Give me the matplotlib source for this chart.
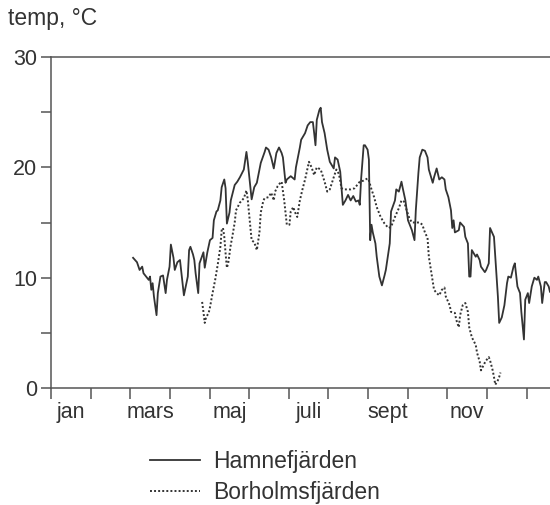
import matplotlib
matplotlib.use("Agg")
import matplotlib.pyplot as plt
import numpy as np

# Daily surface water temperature, day of year (0 = 1 Jan), °C
ham_day = [63, 66, 68, 70, 71, 73, 75, 76, 77, 78, 79, 81, 82, 84, 86, 88, 89, 91, 92,
           94, 95, 97, 99, 101, 102, 105, 106, 107, 109, 110, 111, 113, 114, 117, 118,
           120, 122, 124, 125, 127, 128, 130, 131, 133, 134, 135, 137, 138, 141, 143,
           145, 148, 150, 151, 153, 154, 156, 158, 161, 164, 165, 167, 169, 171, 173,
           175, 177, 178, 180, 181, 184, 187, 188, 191, 192, 194, 195, 197, 199, 201,
           202, 203, 204, 206, 207, 208, 210, 212, 214, 217, 218, 220, 222, 224, 226,
           228, 230, 232, 234, 236, 237, 238, 240, 241, 243, 244, 245, 246, 247, 249,
           250, 252, 254, 256, 257, 260, 261, 264, 265, 267, 269, 270, 272, 274, 277,
           279, 280, 282, 283, 285, 287, 289, 290, 293, 294, 296, 298, 300, 302, 303,
           305, 307, 308, 309, 310, 313, 314, 317, 318, 320, 321, 322, 323, 326, 327,
           329, 330, 333, 334, 336, 337, 340, 341, 343, 344, 346, 348, 350, 351, 353,
           355, 356, 358, 360, 361, 363, 364, 366, 367, 369, 371, 373, 374, 376, 377,
           379, 380, 382, 383, 385]
ham_temp = [11.8, 11.4, 10.7, 11.0, 10.4, 10.1, 9.8, 10.1, 8.9, 9.5, 8.3, 6.6, 8.6, 10.1,
            10.2, 8.6, 9.8, 11.0, 13.0, 11.8, 10.7, 11.4, 11.6, 9.5, 8.4, 10.1, 12.5, 12.8,
            12.1, 11.6, 10.4, 8.6, 11.3, 12.3, 10.9, 12.3, 13.4, 13.6, 15.2, 16.0, 16.1,
            17.0, 18.2, 18.9, 18.1, 14.9, 15.9, 17.0, 18.4, 18.7, 19.1, 19.8, 21.4, 20.5,
            18.2, 17.1, 18.2, 18.6, 20.4, 21.4, 21.8, 21.6, 20.9, 19.9, 21.3, 21.8, 21.3,
            20.9, 18.6, 18.9, 19.2, 18.9, 20.0, 21.8, 22.5, 22.9, 23.1, 23.8, 24.1, 24.1,
            23.1, 22.0, 24.3, 25.2, 25.4, 24.1, 23.1, 21.6, 20.5, 19.9, 20.9, 20.7, 19.6,
            16.6, 17.0, 17.5, 17.0, 17.4, 16.9, 17.0, 16.6, 18.9, 22.0, 22.0, 21.6, 20.7,
            13.4, 14.8, 14.1, 13.1, 11.9, 10.1, 9.3, 10.2, 10.7, 13.1, 16.0, 17.0, 18.0,
            17.8, 18.7, 18.1, 17.0, 15.2, 14.3, 13.4, 16.1, 19.5, 20.9, 21.6, 21.5, 20.9,
            19.8, 18.6, 19.1, 19.9, 18.9, 19.1, 18.9, 18.0, 17.3, 16.1, 14.5, 15.2, 14.1,
            14.3, 15.0, 14.6, 13.7, 13.1, 10.1, 10.1, 12.5, 11.9, 12.1, 11.6, 11.0, 10.5,
            10.7, 11.3, 14.5, 13.7, 11.9, 8.3, 5.9, 6.4, 7.5, 9.5, 10.1, 10.0, 11.0, 11.3,
            9.2, 8.6, 6.9, 4.4, 8.0, 8.6, 7.7, 9.2, 10.0, 9.8, 10.1, 9.2, 7.7, 9.6, 9.6,
            9.2, 8.7, 9.1]

bor_day = [116, 117, 118, 119, 121, 122, 124, 126, 128, 130, 131, 132, 133, 134, 135,
           136, 138, 139, 141, 142, 145, 148, 150, 151, 153, 154, 156, 158, 160, 161,
           163, 164, 167, 169, 171, 172, 174, 176, 177, 179, 181, 183, 184, 186, 187,
           189, 191, 193, 195, 198, 200, 202, 204, 207, 210, 212, 214, 217, 219, 221,
           223, 225, 227, 230, 233, 235, 237, 240, 243, 244, 246, 248, 250, 253, 256,
           259, 261, 264, 267, 269, 271, 273, 275, 277, 280, 283, 285, 287, 289, 290,
           292, 294, 296, 298, 300, 302, 303, 306, 307, 310, 311, 313, 314, 316, 318,
           320, 321, 323, 326, 327, 329, 330, 333, 334, 336, 337, 339, 340, 341, 343,
           344, 345]
bor_temp = [7.8, 6.9, 5.9, 6.4, 6.8, 7.3, 8.6, 9.8, 11.2, 12.8, 14.3, 14.5, 13.7, 12.2,
            10.9, 11.3, 13.0, 13.6, 15.0, 16.1, 16.8, 17.2, 17.9, 17.1, 14.6, 13.4, 13.2,
            12.5, 14.1, 15.9, 17.0, 17.2, 17.3, 17.7, 17.0, 17.8, 18.3, 18.6, 18.7, 17.0,
            14.8, 14.8, 16.0, 16.4, 16.0, 15.5, 17.0, 18.0, 18.9, 20.5, 20.0, 19.3, 20.0,
            19.8, 18.7, 17.8, 18.0, 19.1, 19.8, 19.4, 18.1, 18.0, 18.0, 18.0, 18.1, 18.4,
            18.7, 18.8, 19.0, 18.8, 18.0, 17.3, 16.4, 15.5, 14.9, 14.5, 14.6, 15.5, 16.3,
            17.0, 16.9, 16.1, 15.4, 15.0, 15.0, 15.0, 14.8, 14.1, 13.6, 11.9, 10.4, 8.9,
            8.6, 8.4, 8.9, 9.1, 8.3, 7.5, 6.9, 6.8, 6.2, 5.5, 6.6, 7.5, 7.7, 6.9, 5.5, 4.6,
            3.9, 3.2, 2.4, 1.6, 2.3, 2.5, 2.8, 2.5, 1.6, 1.0, 0.3, 0.7, 1.0, 1.4]

month_labels = ["jan", "", "mars", "", "maj", "", "juli", "", "sept", "", "nov", "", ""]
y_major = [0, 10, 20, 30]
y_minor = [5, 15, 25]

ink = "#333333"
plt.rcParams["font.family"] = ["Liberation Sans", "DejaVu Sans"]

fig = plt.figure(figsize=(5.5, 5.05), dpi=100)
ax = fig.add_axes([51 / 550, 1 - 388 / 505, 1 - 51 / 550, (388 - 57) / 505])

month_len = 365 / 12
ax.plot(ham_day, ham_temp, color=ink, lw=1.3, ls="-", label="Hamnefjärden")
ax.plot(bor_day, bor_temp, color=ink, lw=1.4, ls=(0, (1, 1.1)), label="Borholmsfjärden")

ax.set_xlim(0, 383)
ax.set_ylim(0, 30)

ax.spines["right"].set_visible(False)
for s in ("left", "bottom", "top"):
    ax.spines[s].set_color("#555555")
    ax.spines[s].set_linewidth(1.1)

# Month boundaries as tick marks, month names centred between them
bounds = np.arange(13) * month_len
ax.set_xticks(bounds)
ax.set_xticklabels([])
ax.set_xticks(bounds + month_len / 2, minor=True)
ax.set_xticklabels(month_labels, minor=True)
ax.tick_params(axis="x", which="major", direction="out", length=8, width=1.1,
               color="#555555")
ax.tick_params(axis="x", which="minor", length=0, pad=10, labelsize=15.5, labelcolor=ink)

ax.set_yticks(y_major)
ax.set_yticks(y_minor, minor=True)
ax.tick_params(axis="y", which="both", direction="out", length=7, width=1.1,
               color="#555555", labelsize=15.5, labelcolor=ink, pad=3)

fig.text(8 / 550, 1 - 19 / 505, "temp, °C", fontsize=16.5, color=ink, va="center", ha="left")

ax.legend(loc="center left", bbox_to_anchor=(150 / 550, 1 - 477 / 505),
          bbox_transform=fig.transFigure, frameon=False, fontsize=16.5,
          handlelength=2.18, handletextpad=0.57, labelspacing=0.32, borderpad=0,
          borderaxespad=0, labelcolor=ink)

fig.savefig("out.png", dpi=100)
